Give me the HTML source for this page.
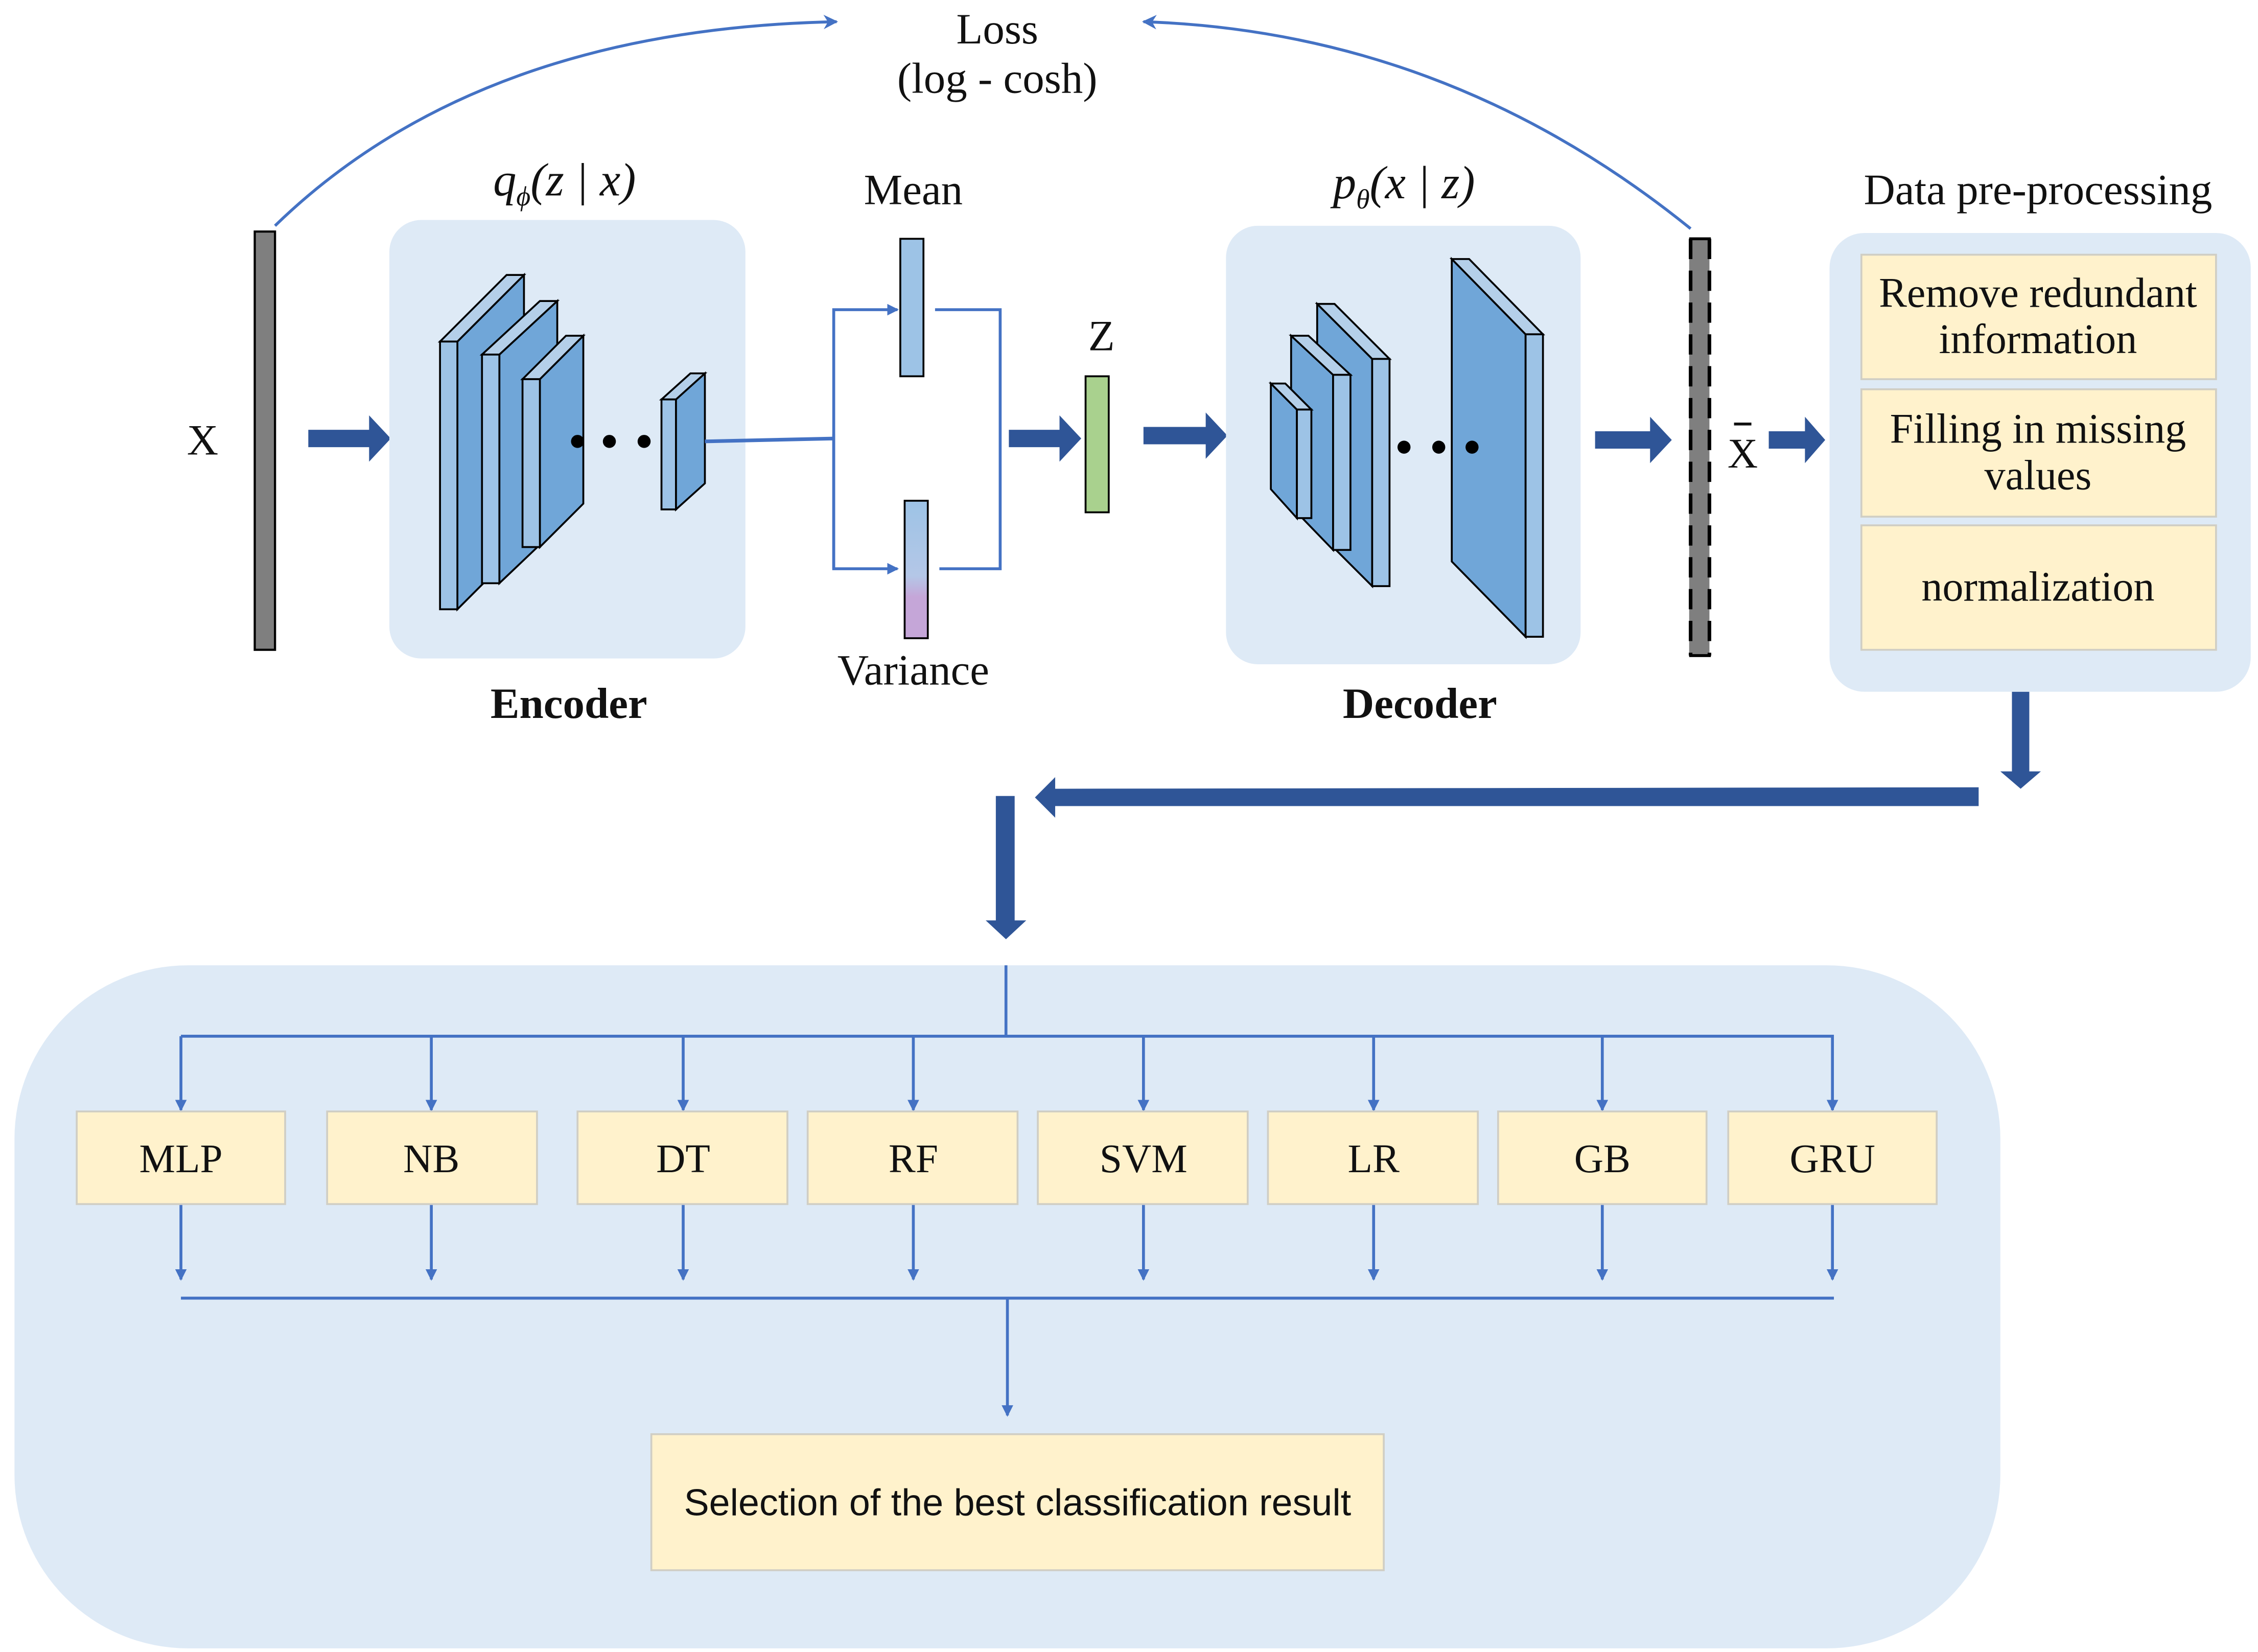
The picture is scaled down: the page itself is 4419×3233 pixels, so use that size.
<!DOCTYPE html>
<html><head><meta charset="utf-8"><style>
html,body{margin:0;padding:0;background:#fff;}
svg{display:block;}
text{font-family:"Liberation Serif",serif;fill:#111;}
</style></head><body>
<svg width="4419" height="3233" viewBox="0 0 1560 1141.5" preserveAspectRatio="none" xmlns="http://www.w3.org/2000/svg">
<defs>
<marker id="ah" markerWidth="8" markerHeight="8" refX="7" refY="4" orient="auto" markerUnits="userSpaceOnUse"><path d="M0,0 L8,4 L0,8 z" fill="#4472c4"/></marker>
<marker id="ahs" markerWidth="10" markerHeight="10" refX="9" refY="5" orient="auto" markerUnits="userSpaceOnUse"><path d="M0,0 L10,5 L0,10 L3,5 z" fill="#4472c4"/></marker>
<linearGradient id="vg" x1="0" y1="0" x2="0" y2="1"><stop offset="0" stop-color="#9dc3e6"/><stop offset="0.55" stop-color="#b4c7e7"/><stop offset="0.7" stop-color="#c5a6d8"/><stop offset="1" stop-color="#c5a6d8"/></linearGradient>
</defs>

<path d="M190,156 Q330,20 578,15" fill="none" stroke="#4472c4" stroke-width="2" marker-end="url(#ahs)"/>
<path d="M1168,158 Q1000,22 790,15" fill="none" stroke="#4472c4" stroke-width="2" marker-end="url(#ahs)"/>
<text x="689" y="30" font-size="30" text-anchor="middle">Loss</text>
<text x="689" y="64" font-size="30" text-anchor="middle">(log - cosh)</text>

<rect x="176" y="160" width="14" height="289" fill="#7f7f7f" stroke="#000" stroke-width="1.5"/>
<text x="140" y="314" font-size="30" text-anchor="middle">X</text>

<g fill="#2f5597">
<path d="M213,297 h42 v-10 l15,16 l-15,16 v-10 h-42 z"/>
<path d="M697,297 h35 v-10 l15,16 l-15,16 v-10 h-35 z"/>
<path d="M790,295 h43 v-10 l15,16 l-15,16 v-10 h-43 z"/>
<path d="M1102,298 h38 v-10 l15,16 l-15,16 v-10 h-38 z"/>
<path d="M1222,298 h25 v-10 l14,16 l-14,16 v-10 h-25 z"/>
<path d="M1390,478 h12 v55 h8 l-14,12 l-14,-12 h8 z"/>
<path d="M1367,544 v13 h-638 v8 l-14,-14 l14,-14 v8 z"/>
<path d="M688,550 h13 v86 h8 l-14,13 l-14,-13 h7 z"/>
</g>

<rect x="269" y="152" width="246" height="303" rx="22" fill="#deeaf6"/>
<text x="390" y="135" font-size="32" text-anchor="middle" font-style="italic">q<tspan font-size="19" dy="7">ϕ</tspan><tspan dy="-7">(z | x)</tspan></text>
<g stroke="#000" stroke-width="1.3">
<polygon points="316,236 362,190 362,375 316,421" fill="#70a6d8"/>
<polygon points="304,236 350,190 362,190 316,236" fill="#b4cfe9"/>
<rect x="304" y="236" width="12" height="185" fill="#9dc3e6"/>
<polygon points="345,245 385,208 385,365 345,403" fill="#70a6d8"/>
<polygon points="333,245 373,208 385,208 345,245" fill="#b4cfe9"/>
<rect x="333" y="245" width="12" height="158" fill="#9dc3e6"/>
<polygon points="373,262 403,232 403,348 373,378" fill="#70a6d8"/>
<polygon points="361,262 391,232 403,232 373,262" fill="#b4cfe9"/>
<rect x="361" y="262" width="12" height="116" fill="#9dc3e6"/>
<polygon points="467,276 487,258 487,334 467,352" fill="#70a6d8"/>
<polygon points="457,276 477,258 487,258 467,276" fill="#b4cfe9"/>
<rect x="457" y="276" width="10" height="76" fill="#9dc3e6"/>
</g>
<g fill="#000"><circle cx="399" cy="305" r="4.5"/><circle cx="421" cy="305" r="4.5"/><circle cx="445" cy="305" r="4.5"/></g>
<text x="393" y="496" font-size="30" text-anchor="middle" font-weight="bold">Encoder</text>

<path d="M487,305 L576,303" stroke="#4472c4" stroke-width="2.5" fill="none"/>
<path d="M576,393 V214 H620" stroke="#4472c4" stroke-width="2" fill="none" marker-end="url(#ah)"/>
<path d="M576,300 V393 H620" stroke="#4472c4" stroke-width="2" fill="none" marker-end="url(#ah)"/>
<path d="M646,214 H691 V393 H649" stroke="#4472c4" stroke-width="2" fill="none"/>
<rect x="622" y="165" width="16" height="95" fill="#9dc3e6" stroke="#000" stroke-width="1.3"/>
<rect x="625" y="346" width="16" height="95" fill="url(#vg)" stroke="#000" stroke-width="1.3"/>
<text x="631" y="141" font-size="30" text-anchor="middle">Mean</text>
<text x="631" y="473" font-size="30" text-anchor="middle">Variance</text>
<rect x="750" y="260" width="16" height="94" fill="#a9d18e" stroke="#000" stroke-width="1.3"/>
<text x="761" y="242" font-size="30" text-anchor="middle">Z</text>

<rect x="847" y="156" width="245" height="303" rx="22" fill="#deeaf6"/>
<text x="970" y="137" font-size="32" text-anchor="middle" font-style="italic">p<tspan font-size="19" dy="7">θ</tspan><tspan dy="-7">(x | z)</tspan></text>
<g stroke="#000" stroke-width="1.3">
<polygon points="1003,179 1054,231 1054,440 1003,388" fill="#70a6d8"/>
<polygon points="1003,179 1015,179 1066,231 1054,231" fill="#b4cfe9"/>
<rect x="1054" y="231" width="12" height="209" fill="#9dc3e6"/>
<polygon points="910,210 948,248 948,405 910,367" fill="#70a6d8"/>
<polygon points="910,210 922,210 960,248 948,248" fill="#b4cfe9"/>
<rect x="948" y="248" width="12" height="157" fill="#9dc3e6"/>
<polygon points="892,232 921,259 921,380 892,350" fill="#70a6d8"/>
<polygon points="892,232 904,232 933,259 921,259" fill="#b4cfe9"/>
<rect x="921" y="259" width="12" height="121" fill="#9dc3e6"/>
<polygon points="878,265 896,283 896,358 878,338" fill="#70a6d8"/>
<polygon points="878,265 888,265 906,283 896,283" fill="#b4cfe9"/>
<rect x="896" y="283" width="10" height="75" fill="#9dc3e6"/>
</g>
<g fill="#000"><circle cx="970" cy="309" r="4.5"/><circle cx="994" cy="309" r="4.5"/><circle cx="1017" cy="309" r="4.5"/></g>
<text x="981" y="496" font-size="30" text-anchor="middle" font-weight="bold">Decoder</text>

<rect x="1167" y="165" width="14" height="288" fill="#7f7f7f"/>
<line x1="1168" y1="165" x2="1168" y2="453" stroke="#000" stroke-width="2.5" stroke-dasharray="14,8"/>
<line x1="1181" y1="165" x2="1181" y2="453" stroke="#000" stroke-width="2.5" stroke-dasharray="14,8"/>
<line x1="1167" y1="165" x2="1182" y2="165" stroke="#000" stroke-width="2"/>
<line x1="1167" y1="453" x2="1182" y2="453" stroke="#000" stroke-width="2"/>
<text x="1204" y="323" font-size="29" text-anchor="middle">X</text>
<line x1="1198" y1="293" x2="1210" y2="293" stroke="#111" stroke-width="2"/>

<text x="1408" y="141" font-size="30" text-anchor="middle">Data pre-processing</text>
<rect x="1264" y="161" width="291" height="317" rx="24" fill="#deeaf6"/>
<g fill="#fff2cc" stroke="#d0cec4" stroke-width="1.3">
<rect x="1286" y="176" width="245" height="86"/>
<rect x="1286" y="269" width="245" height="88"/>
<rect x="1286" y="363" width="245" height="86"/>
</g>
<g font-size="29" text-anchor="middle">
<text x="1408" y="212">Remove redundant</text>
<text x="1408" y="244">information</text>
<text x="1408" y="306">Filling in missing</text>
<text x="1408" y="338">values</text>
<text x="1408" y="415">normalization</text>
</g>

<rect x="10" y="667" width="1372" height="472" rx="120" fill="#deeaf6"/>
<g stroke="#4472c4" stroke-width="2" fill="none">
<line x1="695" y1="667" x2="695" y2="716"/>
<line x1="125" y1="716" x2="1267" y2="716"/>
<line x1="125" y1="897" x2="1267" y2="897"/>
<line x1="696" y1="897" x2="696" y2="978" marker-end="url(#ah)"/>
<line x1="125" y1="716" x2="125" y2="767" marker-end="url(#ah)"/><line x1="125" y1="832" x2="125" y2="884" marker-end="url(#ah)"/>
<line x1="298" y1="716" x2="298" y2="767" marker-end="url(#ah)"/><line x1="298" y1="832" x2="298" y2="884" marker-end="url(#ah)"/>
<line x1="472" y1="716" x2="472" y2="767" marker-end="url(#ah)"/><line x1="472" y1="832" x2="472" y2="884" marker-end="url(#ah)"/>
<line x1="631" y1="716" x2="631" y2="767" marker-end="url(#ah)"/><line x1="631" y1="832" x2="631" y2="884" marker-end="url(#ah)"/>
<line x1="790" y1="716" x2="790" y2="767" marker-end="url(#ah)"/><line x1="790" y1="832" x2="790" y2="884" marker-end="url(#ah)"/>
<line x1="949" y1="716" x2="949" y2="767" marker-end="url(#ah)"/><line x1="949" y1="832" x2="949" y2="884" marker-end="url(#ah)"/>
<line x1="1107" y1="716" x2="1107" y2="767" marker-end="url(#ah)"/><line x1="1107" y1="832" x2="1107" y2="884" marker-end="url(#ah)"/>
<line x1="1266" y1="716" x2="1266" y2="767" marker-end="url(#ah)"/><line x1="1266" y1="832" x2="1266" y2="884" marker-end="url(#ah)"/>
</g>
<g fill="#fff2cc" stroke="#d0cec4" stroke-width="1.3">
<rect x="53" y="768" width="144" height="64"/>
<rect x="226" y="768" width="145" height="64"/>
<rect x="399" y="768" width="145" height="64"/>
<rect x="558" y="768" width="145" height="64"/>
<rect x="717" y="768" width="145" height="64"/>
<rect x="876" y="768" width="145" height="64"/>
<rect x="1035" y="768" width="144" height="64"/>
<rect x="1194" y="768" width="144" height="64"/>
<rect x="450" y="991" width="506" height="94"/>
</g>
<g font-size="28" text-anchor="middle">
<text x="125" y="810">MLP</text>
<text x="298" y="810">NB</text>
<text x="472" y="810">DT</text>
<text x="631" y="810">RF</text>
<text x="790" y="810">SVM</text>
<text x="949" y="810">LR</text>
<text x="1107" y="810">GB</text>
<text x="1266" y="810">GRU</text>
</g>
<text x="703" y="1047" text-anchor="middle" style="font-family:'Liberation Sans',sans-serif;font-size:26px;">Selection of the best classification result</text>
</svg>
</body></html>
